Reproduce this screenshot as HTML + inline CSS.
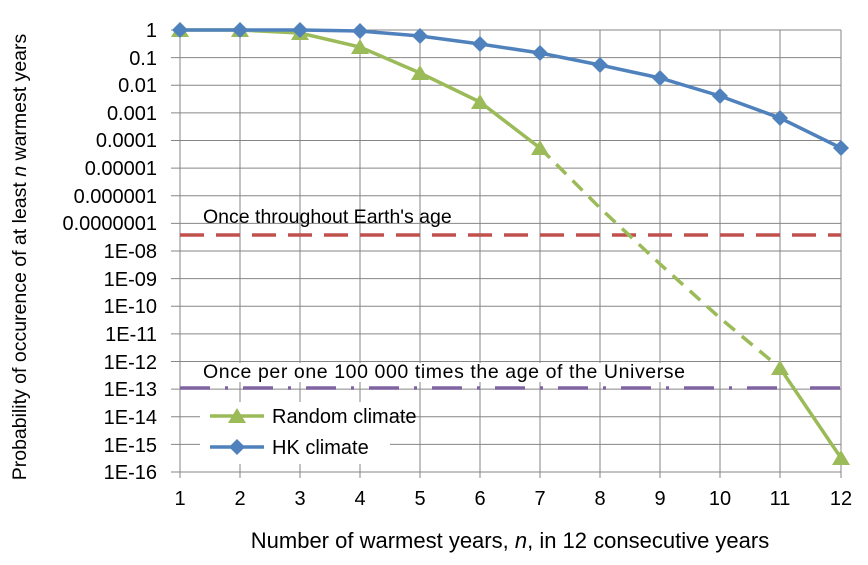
<!DOCTYPE html>
<html><head><style>body{margin:0;background:#fff}</style></head><body>
<svg width="868" height="560" xmlns="http://www.w3.org/2000/svg" font-family="Liberation Sans, sans-serif">
<rect width="868" height="560" fill="#fff"/>
<g stroke="#868686" stroke-width="1">
<line x1="171" y1="30" x2="841" y2="30"/><line x1="171" y1="57.6" x2="841" y2="57.6"/><line x1="171" y1="85.3" x2="841" y2="85.3"/><line x1="171" y1="112.9" x2="841" y2="112.9"/><line x1="171" y1="140.5" x2="841" y2="140.5"/><line x1="171" y1="168.1" x2="841" y2="168.1"/><line x1="171" y1="195.8" x2="841" y2="195.8"/><line x1="171" y1="223.4" x2="841" y2="223.4"/><line x1="171" y1="251" x2="841" y2="251"/><line x1="171" y1="278.6" x2="841" y2="278.6"/><line x1="171" y1="306.3" x2="841" y2="306.3"/><line x1="171" y1="333.9" x2="841" y2="333.9"/><line x1="171" y1="361.5" x2="841" y2="361.5"/><line x1="171" y1="389.1" x2="841" y2="389.1"/><line x1="171" y1="416.8" x2="841" y2="416.8"/><line x1="171" y1="444.4" x2="841" y2="444.4"/><line x1="171" y1="472" x2="841" y2="472"/>
<line x1="180" y1="30" x2="180" y2="478"/><line x1="240" y1="30" x2="240" y2="478"/><line x1="300" y1="30" x2="300" y2="478"/><line x1="360" y1="30" x2="360" y2="478"/><line x1="420" y1="30" x2="420" y2="478"/><line x1="480" y1="30" x2="480" y2="478"/><line x1="540" y1="30" x2="540" y2="478"/><line x1="600" y1="30" x2="600" y2="478"/><line x1="660" y1="30" x2="660" y2="478"/><line x1="720" y1="30" x2="720" y2="478"/><line x1="780" y1="30" x2="780" y2="478"/><line x1="841" y1="30" x2="841" y2="478"/>
</g>
<g font-size="20" text-anchor="end" fill="#000">
<text x="157" y="37">1</text><text x="157" y="65">0.1</text><text x="157" y="92">0.01</text><text x="157" y="120">0.001</text><text x="157" y="147">0.0001</text><text x="157" y="175">0.00001</text><text x="157" y="203">0.000001</text><text x="157" y="230">0.0000001</text><text x="157" y="258">1E-08</text><text x="157" y="286">1E-09</text><text x="157" y="313">1E-10</text><text x="157" y="341">1E-11</text><text x="157" y="369">1E-12</text><text x="157" y="396">1E-13</text><text x="157" y="424">1E-14</text><text x="157" y="452">1E-15</text><text x="157" y="479">1E-16</text>
</g>
<g font-size="20" text-anchor="middle">
<text x="180" y="505">1</text><text x="240" y="505">2</text><text x="300" y="505">3</text><text x="360" y="505">4</text><text x="420" y="505">5</text><text x="480" y="505">6</text><text x="540" y="505">7</text><text x="600" y="505">8</text><text x="660" y="505">9</text><text x="720" y="505">10</text><text x="780" y="505">11</text><text x="841" y="505">12</text>
<text x="510" y="548" font-size="22">Number of warmest years, <tspan font-style="italic">n</tspan>, in 12 consecutive years</text>
<text transform="translate(26,257) rotate(-90)" font-size="19.5">Probability of occurence of at least <tspan font-style="italic">n</tspan> warmest years</text>
</g>
<line x1="180" y1="235" x2="841" y2="235" stroke="#c0504d" stroke-width="3.5" stroke-dasharray="24,12"/>
<text x="203" y="223" font-size="19.5">Once throughout Earth's age</text>
<line x1="180" y1="388" x2="841" y2="388" stroke="#8064a2" stroke-width="3.5" stroke-dasharray="30,15,3,15"/>
<rect x="196" y="363" width="495" height="19" fill="#fff"/>
<text x="203" y="378" font-size="19.5" textLength="482">Once per one 100 000 times the age of the Universe</text>
<polyline points="180,30 240,30 300,33 360,47 420,73 480,102 540,148" fill="none" stroke="#9bbb59" stroke-width="3.5"/>
<polyline points="540,148 600,208 660,264 720,318 780,368" fill="none" stroke="#9bbb59" stroke-width="3.5" stroke-dasharray="14,9"/>
<polyline points="780,368 841,458" fill="none" stroke="#9bbb59" stroke-width="3.5"/>
<g fill="#9bbb59">
<polygon points="180,22 189,37 171,37"/><polygon points="240,22 249,37 231,37"/><polygon points="300,25 309,40 291,40"/><polygon points="360,39 369,54 351,54"/><polygon points="420,65 429,80 411,80"/><polygon points="480,94 489,109 471,109"/><polygon points="540,140 549,155 531,155"/><polygon points="780,360 789,375 771,375"/><polygon points="841,450 850,465 832,465"/>
</g>
<polyline points="180,30 240,30 300,30 360,31 420,36 480,44 540,53 600,65 660,78 720,96 780,118 841,148" fill="none" stroke="#4f81bd" stroke-width="3.5"/>
<g fill="#4f81bd">
<polygon points="180,22 188,30 180,38 172,30"/><polygon points="240,22 248,30 240,38 232,30"/><polygon points="300,22 308,30 300,38 292,30"/><polygon points="360,23 368,31 360,39 352,31"/><polygon points="420,28 428,36 420,44 412,36"/><polygon points="480,36 488,44 480,52 472,44"/><polygon points="540,45 548,53 540,61 532,53"/><polygon points="600,57 608,65 600,73 592,65"/><polygon points="660,70 668,78 660,86 652,78"/><polygon points="720,88 728,96 720,104 712,96"/><polygon points="780,110 788,118 780,126 772,118"/><polygon points="841,140 849,148 841,156 833,148"/>
</g>
<rect x="200" y="402" width="190" height="62" fill="#fff"/>
<line x1="210" y1="416" x2="264" y2="416" stroke="#9bbb59" stroke-width="3.5"/>
<polygon points="237,408 246,423 228,423" fill="#9bbb59"/>
<text x="272" y="423" font-size="20">Random climate</text>
<line x1="210" y1="447" x2="264" y2="447" stroke="#4f81bd" stroke-width="3.5"/>
<polygon points="237,439 245,447 237,455 229,447" fill="#4f81bd"/>
<text x="272" y="454" font-size="20">HK climate</text>
</svg>
</body></html>
